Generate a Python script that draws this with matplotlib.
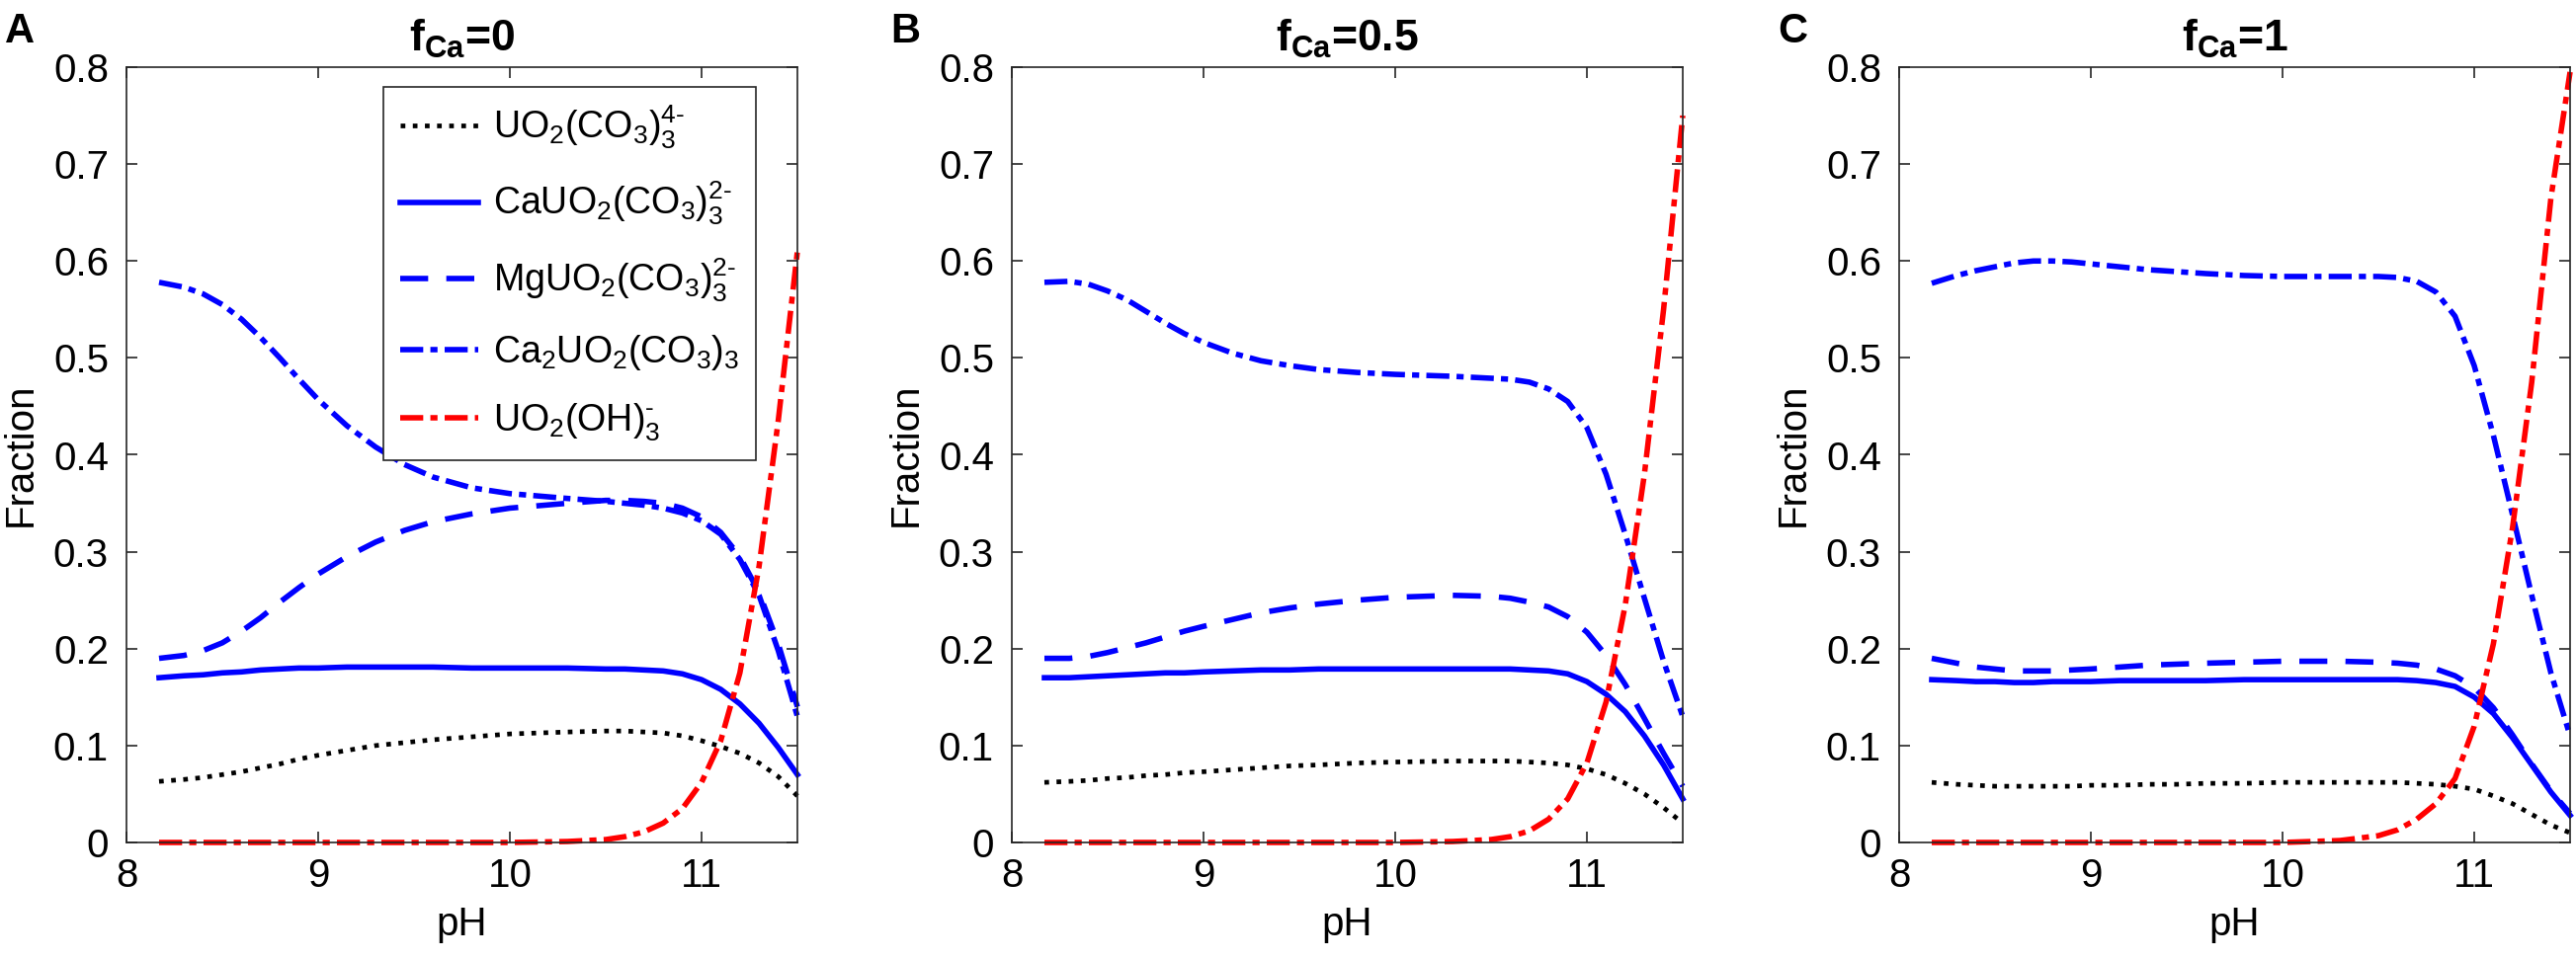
import numpy as np
import matplotlib
matplotlib.use('Agg')
import matplotlib.pyplot as plt

plt.rcParams['font.family'] = ['Liberation Sans', 'DejaVu Sans']
plt.rcParams['mathtext.fontset'] = 'custom'
plt.rcParams['mathtext.rm'] = 'Liberation Sans'
plt.rcParams['mathtext.it'] = 'Liberation Sans:italic'
plt.rcParams['mathtext.bf'] = 'Liberation Sans:bold'

ph = [8.17, 8.3, 8.4, 8.5, 8.6, 8.7, 8.8, 8.9, 9.0, 9.15, 9.3, 9.45, 9.6, 9.8,
      10.0, 10.3, 10.5, 10.6, 10.7, 10.8, 10.9, 11.0, 11.1, 11.2, 11.3, 11.4, 11.5]

# panel A, f_Ca = 0
a_uo2co3 = [.063, .065, .067, .070, .073, .077, .081, .086, .090, .095, .100, .103, .106, .109,
            .112, .114, .115, .115, .114, .113, .110, .105, .099, .092, .082, .068, .048]
a_ca = [.170, .172, .173, .175, .176, .178, .179, .180, .180, .181, .181, .181, .181, .180,
        .180, .180, .179, .179, .178, .177, .174, .168, .158, .143, .123, .098, .070]
a_mg = [.190, .193, .198, .206, .218, .232, .248, .263, .277, .295, .310, .322, .331, .339,
        .345, .350, .353, .353, .352, .350, .345, .336, .320, .295, .258, .205, .140]
a_ca2 = [.578, .573, .566, .555, .540, .521, .500, .478, .457, .430, .408, .390, .377, .366,
         .360, .355, .352, .350, .348, .345, .340, .332, .318, .292, .255, .198, .130]
a_oh = [0, 0, 0, 0, 0, 0, 0, 0, 0, 0, 0, 0, 0, 0,
        0, .001, .003, .006, .011, .020, .035, .062, .105, .175, .285, .435, .610]

# panel B, f_Ca = 0.5
b_uo2co3 = [.062, .063, .064, .066, .067, .069, .070, .072, .073, .075, .077, .079, .080, .082,
            .083, .084, .084, .084, .083, .082, .080, .076, .070, .061, .050, .036, .020]
b_ca = [.170, .170, .171, .172, .173, .174, .175, .175, .176, .177, .178, .178, .179, .179,
        .179, .179, .179, .179, .178, .177, .174, .166, .153, .135, .110, .080, .045]
b_mg = [.190, .190, .192, .196, .201, .206, .212, .218, .223, .230, .237, .242, .246, .250,
        .253, .255, .254, .252, .248, .243, .233, .217, .193, .163, .128, .092, .058]
b_ca2 = [.578, .579, .576, .569, .560, .548, .536, .525, .516, .505, .497, .492, .488, .485,
         .483, .481, .479, .478, .475, .468, .455, .428, .380, .318, .252, .187, .130]
b_oh = [0, 0, 0, 0, 0, 0, 0, 0, 0, 0, 0, 0, 0, 0,
        0, .001, .003, .006, .012, .024, .045, .082, .145, .245, .380, .550, .750]

# panel C, f_Ca = 1
c_uo2co3 = [.062, .060, .059, .058, .058, .058, .058, .058, .059, .059, .060, .060, .061, .061,
            .062, .062, .062, .062, .061, .060, .058, .055, .048, .040, .029, .018, .010]
c_ca = [.168, .167, .166, .166, .165, .165, .166, .166, .166, .167, .167, .167, .167, .168,
        .168, .168, .168, .168, .167, .165, .161, .150, .133, .108, .080, .052, .028]
c_mg = [.190, .185, .181, .179, .177, .177, .177, .178, .179, .181, .183, .184, .185, .186,
        .187, .187, .186, .185, .183, .179, .172, .160, .139, .111, .081, .053, .030]
c_ca2 = [.577, .585, .590, .594, .598, .600, .600, .599, .597, .594, .591, .589, .587, .585,
         .584, .584, .584, .583, .579, .568, .543, .492, .420, .338, .255, .175, .110]
c_oh = [0, 0, 0, 0, 0, 0, 0, 0, 0, 0, 0, 0, 0, 0,
        0, .002, .007, .013, .024, .040, .066, .120, .205, .325, .475, .665, .795]

panels = [
    ('A', '0', [a_uo2co3, a_ca, a_mg, a_ca2, a_oh]),
    ('B', '0.5', [b_uo2co3, b_ca, b_mg, b_ca2, b_oh]),
    ('C', '1', [c_uo2co3, c_ca, c_mg, c_ca2, c_oh]),
]

labels = [
    r'UO$_2$(CO$_3$)$_3^{4\text{-}}$',
    r'CaUO$_2$(CO$_3$)$_3^{2\text{-}}$',
    r'MgUO$_2$(CO$_3$)$_3^{2\text{-}}$',
    r'Ca$_2$UO$_2$(CO$_3$)$_3$',
    r'UO$_2$(OH)$_3^{\text{-}}$',
]
colors = ['black', '#0000ff', '#0000ff', '#0000ff', '#ff0000']
dashes = [(1.0, 1.6), None, (5.1, 3.3), (4.2, 1.3, 1.3, 1.3), (4.2, 1.3, 1.3, 1.3)]
widths = [3.4, 4.0, 4.0, 4.0, 4.0]

W, H = 2607, 972
fig = plt.figure(figsize=(W / 100, H / 100), dpi=100)
lefts = [128, 1024, 1922]
axw, axh = 679, 785
bottom = H - 853

dark = '#262626'
for (letter, fca, series), left in zip(panels, lefts):
    ax = fig.add_axes([left / W, bottom / H, axw / W, axh / H])
    for y, lab, col, d, lw in zip(series, labels, colors, dashes, widths):
        line, = ax.plot(ph, y, color=col, lw=lw, label=lab, clip_on=False)
        if d is not None:
            line.set_dashes(d)
    ax.set_xlim(8, 11.5)
    ax.set_ylim(0, 0.8)
    ax.set_xticks([8, 9, 10, 11])
    ax.set_yticks(np.arange(0, 0.81, 0.1))
    ax.set_yticklabels(['0', '0.1', '0.2', '0.3', '0.4', '0.5', '0.6', '0.7', '0.8'])
    ax.tick_params(direction='in', top=True, right=True, length=8, width=1.2,
                   colors=dark, labelsize=29, labelcolor='black')
    ax.tick_params(axis='x', pad=11)
    ax.tick_params(axis='y', pad=13)
    for s in ax.spines.values():
        s.set_color(dark)
        s.set_linewidth(1.2)
    ax.set_xlabel('pH', fontsize=29, labelpad=8)
    ax.set_ylabel('Fraction', fontsize=29, labelpad=10)
    ax.set_title(r'$\mathbf{f}_{\mathbf{Ca}}$=' + fca, fontsize=32, fontweight='bold', pad=12)
    fig.text((left - 123) / W, 1 - 12 / H, letter, fontsize=30, fontweight='bold',
             ha='left', va='top')
    if letter == 'A':
        leg = ax.legend(loc='upper right', bbox_to_anchor=(0.938, 0.9745), borderaxespad=0,
                        fontsize=27, handlelength=2.1, handletextpad=0.4, labelspacing=0.78,
                        borderpad=0.45, fancybox=False, framealpha=1)
        leg.get_frame().set_edgecolor(dark)
        leg.get_frame().set_linewidth(1.2)

fig.savefig('out.png', dpi=100)
